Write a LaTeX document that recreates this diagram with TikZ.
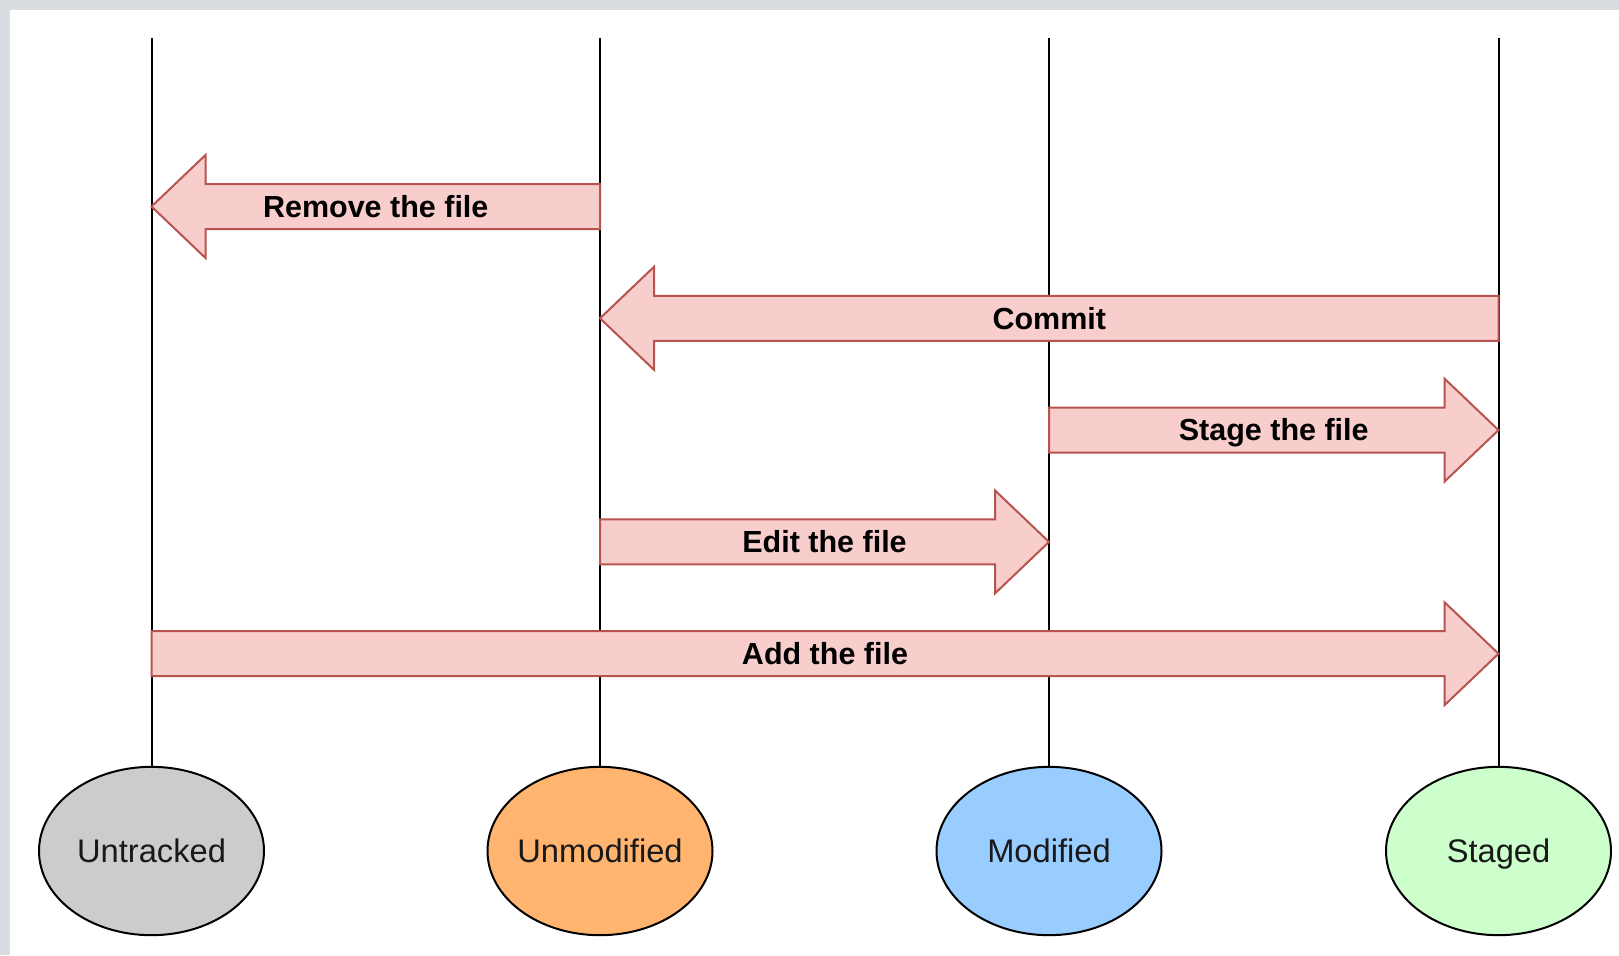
\documentclass[tikz,border=0pt]{standalone}
\usepackage{fontspec}
\setmainfont{Liberation Sans}
\usetikzlibrary{calc, shapes.geometric}
\definecolor{flowFill}{HTML}{F8CECC}
\definecolor{flowLine}{HTML}{B85450}
\definecolor{pageGray}{HTML}{D9DCE0}
\definecolor{stUntracked}{HTML}{CCCCCC}
\definecolor{stUnmodified}{HTML}{FFB570}
\definecolor{stModified}{HTML}{99CCFF}
\definecolor{stStaged}{HTML}{CCFFCC}

% block arrow: name, tail, tip, signed head length, label
\newcommand{\blockarrow}[5]{%
  \draw[flow] ($(#2)+(0,-22.5)$) -- ($(#3)+({-1*(#4)},-22.5)$) -- ($(#3)+({-1*(#4)},-51.5)$)
    -- (#3) -- ($(#3)+({-1*(#4)},51.5)$) -- ($(#3)+({-1*(#4)},22.5)$) -- ($(#2)+(0,22.5)$) -- cycle;
  \node[lbl] (#1) at ($(#2)!0.5!(#3)$) {#5};
}

\begin{document}
\begin{tikzpicture}[
  x=0.6pt, y=-0.6pt,
  state/.style={ellipse, draw=black, line width=1.2pt, inner xsep=-12pt, inner ysep=0pt,
                minimum width=135pt, minimum height=101pt,
                text height=13.5pt, text depth=0pt,
                font=\fontsize{19.6}{23}\selectfont, text=black!90},
  lane/.style={draw=black, line width=1.2pt},
  flow/.style={draw=flowLine, fill=flowFill, line width=1.2pt, line join=miter},
  lbl/.style={font=\fontsize{18.3}{22}\selectfont\bfseries, inner sep=0pt,
              text height=13pt, text depth=0pt}
]
\fill[pageGray] (0,0) rectangle (1619,955);
\fill[white] (10,10) rectangle (1619,955);
\useasboundingbox (0,0) rectangle (1619,955);

% states
\node[state, fill=stUntracked] (untracked) at (151.5,851) {Untracked};
\node[state, fill=stUnmodified] (unmodified) at (600,851) {Unmodified};
\node[state, fill=stModified] (modified) at (1049,851) {Modified};
\node[state, fill=stStaged] (staged) at (1498.5,851) {Staged};

% lanes and rows
\foreach \s/\x in {untracked/151.5, unmodified/600, modified/1049, staged/1498.5} {
  \coordinate (\s-top) at (\x,38);
  \draw[lane] (\s-top) -- (\s);
  \foreach \r/\y in {1/206.5, 2/318.3, 3/430.1, 4/541.9, 5/653.7}
    \coordinate (\s-\r) at (\x,\y);
}

\blockarrow{remove}{unmodified-1}{untracked-1}{-54}{Remove the file}
\blockarrow{commit}{staged-2}{unmodified-2}{-54}{Commit}
\blockarrow{stage}{modified-3}{staged-3}{54}{Stage the file}
\blockarrow{edit}{unmodified-4}{modified-4}{54}{Edit the file}
\blockarrow{add}{untracked-5}{staged-5}{54}{Add the file}
\end{tikzpicture}
\end{document}
